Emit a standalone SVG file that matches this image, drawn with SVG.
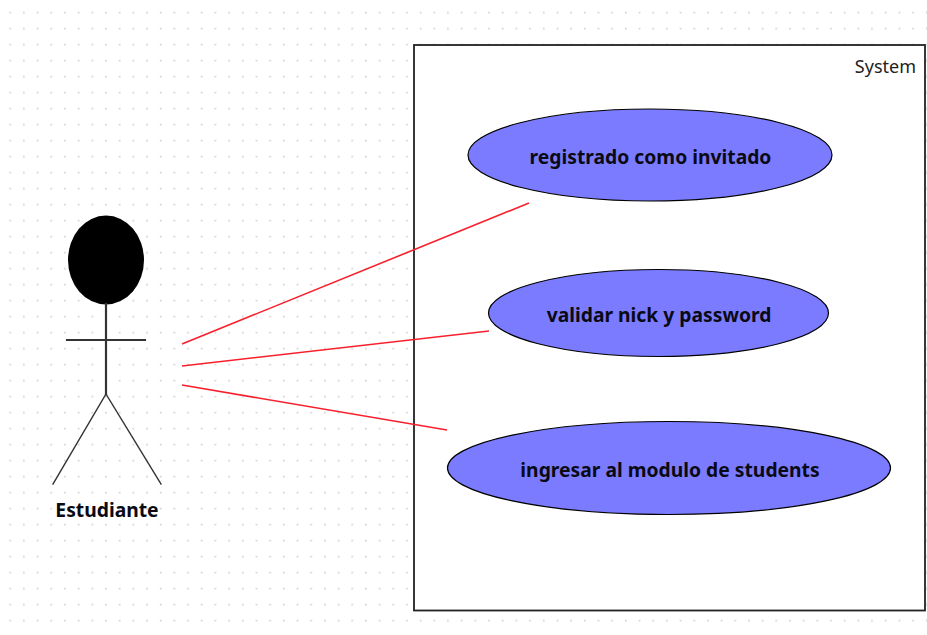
<svg xmlns="http://www.w3.org/2000/svg" width="927" height="635" viewBox="0 0 927 635">
<style>
.uc{fill:#7b7bff;stroke:#000;stroke-width:1.2}
.lbl{font-family:"Noto Sans","DejaVu Sans",sans-serif;font-weight:700;font-size:19.3px;fill:#0a0a14;text-anchor:middle}
.fig{stroke:#333;fill:none;stroke-linecap:square}
.link{stroke:#f8202c;stroke-width:1.6;fill:none}
</style>
<defs>
<pattern id="dots" x="3.5" y="5.5" width="13.68" height="16" patternUnits="userSpaceOnUse">
<rect x="6" y="6.5" width="1.4" height="1.4" fill="#bdbdbd"/>
</pattern>
</defs>
<rect width="927" height="635" fill="#fff"/>
<rect width="927" height="635" fill="url(#dots)"/>
<g id="system">
<rect x="414" y="45" width="511" height="565.500" fill="#fff" stroke="#222" stroke-width="1.800"/>
<text x="916" y="73" style="font-family:'Noto Sans','DejaVu Sans',sans-serif;font-size:18px;fill:#222;text-anchor:end">System</text>
</g>
<g id="connectors">
<line class="link" x1="182" y1="344" x2="529" y2="203"/>
<line class="link" x1="182" y1="366" x2="489" y2="331"/>
<line class="link" x1="182" y1="385" x2="447" y2="430"/>
</g>
<g id="actor">
<ellipse cx="106" cy="260" rx="38" ry="44.500" fill="#000"/>
<line class="fig" stroke-width="2.200" x1="106" y1="304" x2="106" y2="394"/>
<line class="fig" stroke-width="2.200" x1="67" y1="340" x2="145" y2="340"/>
<line class="fig" stroke-width="1.400" x1="106" y1="394" x2="53" y2="484"/>
<line class="fig" stroke-width="1.400" x1="106" y1="394" x2="161" y2="484"/>
<text class="lbl" x="107" y="516.500">Estudiante</text>
</g>
<g id="uc1">
<ellipse class="uc" cx="650" cy="155" rx="182" ry="46"/>
<text class="lbl" x="650.500" y="163.500">registrado como invitado</text>
</g>
<g id="uc2">
<ellipse class="uc" cx="658.500" cy="313" rx="170" ry="43.500"/>
<text class="lbl" x="659" y="321.500">validar nick y password</text>
</g>
<g id="uc3">
<ellipse class="uc" cx="669" cy="468" rx="221.500" ry="46.500"/>
<text class="lbl" x="670" y="476.500">ingresar al modulo de students</text>
</g>
</svg>
